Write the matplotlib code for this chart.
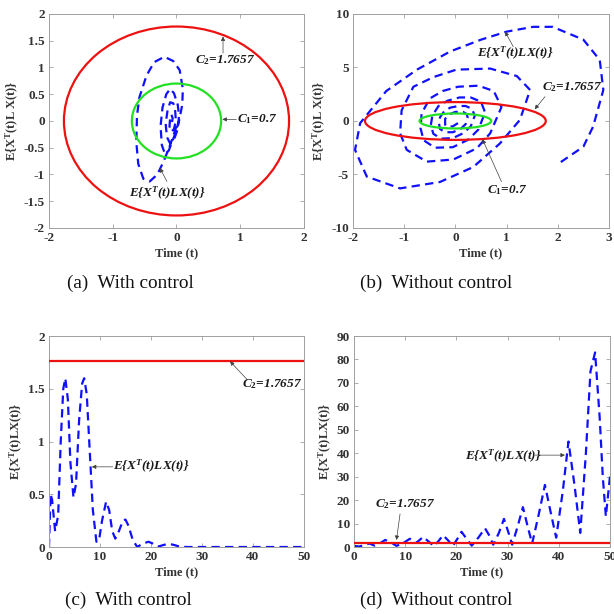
import matplotlib
matplotlib.use('Agg')
from matplotlib import pyplot as plt
from matplotlib.patches import Circle
from matplotlib.ticker import FuncFormatter

plt.rcParams['font.family'] = 'Liberation Serif'
plt.rcParams['font.weight'] = 'bold'
plt.rcParams['mathtext.fontset'] = 'custom'
plt.rcParams['mathtext.rm'] = 'Liberation Serif:bold'
plt.rcParams['mathtext.it'] = 'Liberation Serif:italic:bold'
plt.rcParams['mathtext.bf'] = 'Liberation Serif:bold'
plt.rcParams['lines.scale_dashes'] = False


# #################################################################
# Data
# #################################################################

C1 = 0.7
C2 = 1.7657

# (a) phase trajectory with control
xa = [0.0, -0.1, -0.2, -0.3, -0.42, -0.52, -0.6, -0.63, -0.62, -0.58, -0.47,
      -0.35, -0.19, -0.05, 0.05, 0.1, 0.09, 0.04, -0.04, -0.12, -0.18, -0.23,
      -0.25, -0.22, -0.16, -0.1, -0.04, 0.02, 0.04, 0.02, -0.04, -0.1, -0.15,
      -0.17, -0.14, -0.1, -0.05, -0.02, -0.01, -0.04, -0.08, -0.11, -0.1,
      -0.08, -0.06, -0.07]
ya = [-0.1, -0.45, -0.75, -1.0, -1.13, -1.08, -0.8, -0.4, 0.1, 0.45, 0.85,
      1.1, 1.2, 1.12, 0.95, 0.6, 0.3, 0.0, -0.3, -0.55, -0.62, -0.45,
      -0.1, 0.25, 0.5, 0.6, 0.52, 0.3, 0.1, -0.15, -0.35, -0.42, -0.3,
      -0.05, 0.2, 0.35, 0.33, 0.18, 0.0, -0.15, -0.2, -0.1, 0.05,
      0.12, 0.05, -0.02]

# (b) phase trajectory without control
xb = [0.05, -0.05, -0.15, -0.2, -0.2, -0.13, 0.0, 0.15, 0.22, 0.24,
      0.2, 0.1, -0.05, -0.2, -0.3, -0.32, -0.3, -0.22, -0.1, 0.06, 0.2, 0.32, 0.38,
      0.3, 0.15, -0.05, -0.28, -0.43, -0.48, -0.45, -0.33, -0.15, 0.08, 0.3, 0.5, 0.58,
      0.45, 0.25, -0.05, -0.4, -0.62, -0.68, -0.66, -0.5, -0.25, 0.05, 0.45, 0.75, 0.9,
      0.68, 0.42, -0.04, -0.56, -0.95, -1.08, -1.05, -0.82, -0.43, 0.02, 0.68, 1.2, 1.46,
      1.26, 0.87, 0.35, -0.3, -1.08, -1.73, -1.96, -1.86, -1.35, -0.75, -0.1, 0.5,
      1.0, 1.52, 1.9, 2.5, 2.82, 2.89, 2.69, 2.5, 1.98]
yb = [-0.2, -0.5, -0.55, -0.35, 0.2, 0.6, 0.85, 0.85, 0.65, 0.3,
      -0.3, -0.75, -1.05, -1.05, -0.75, -0.25, 0.35, 0.9, 1.25, 1.4, 1.4, 1.15, 0.5,
      -0.5, -1.15, -1.6, -1.65, -1.2, -0.4, 0.5, 1.4, 1.9, 2.2, 2.2, 1.8, 0.8,
      -0.8, -1.75, -2.45, -2.5, -1.8, -0.7, 0.7, 2.1, 2.8, 3.2, 3.3, 2.8, 1.3,
      -1.15, -2.55, -3.6, -3.8, -2.7, -1.15, 1.0, 3.2, 4.1, 4.8, 4.9, 4.2, 2.9,
      0.1, -2.1, -4.3, -5.7, -6.3, -5.2, -2.7, -0.2, 2.8, 4.8, 6.5, 7.6,
      8.35, 8.8, 8.8, 7.6, 5.7, 2.9, -0.53, -2.4, -4.1]

# (c) E{X^T(t)LX(t)} with control
tc = [0, 0.3, 0.6, 1.2, 1.8, 2.3, 2.8, 3.2, 3.7, 4.2, 4.8, 5.3, 5.9, 6.5,
      6.9, 7.4, 8.0, 8.6, 9.3, 9.8, 10.4, 11.2, 11.8, 12.4, 13.0, 13.7, 14.5,
      15.0, 15.6, 16.4, 17.3, 18.3, 19.5, 20.5, 21.5, 22.5, 23.5, 24.5, 25.5,
      27, 30, 35, 40, 45, 50]
vc = [0, 0.5, 0.45, 0.15, 0.3, 1.0, 1.5, 1.6, 1.4, 0.8, 0.47, 0.6, 1.2, 1.55,
      1.6, 1.45, 0.9, 0.35, 0.05, 0.06, 0.25, 0.43, 0.35, 0.15, 0.08, 0.15, 0.25,
      0.26, 0.2, 0.07, 0.0, 0.03, 0.05, 0.03, 0.005, 0.02, 0.03, 0.02, 0.005,
      0.0, 0.0, 0.0, 0.0, 0.0, 0.0]

# (d) E{X^T(t)LX(t)} without control
td = [0, 1, 2, 3, 4, 5, 6.1, 7.2, 8.3, 9.5, 10.9, 12.2, 13.5, 14.5, 15.6,
      16.5, 17.4, 18.4, 19.3, 20.2, 21, 22, 23, 24.3, 25.6, 26.4, 27.2, 28.3,
      29.3, 30.2, 30.9, 32, 33, 33.9, 34.8, 36.1, 37.3, 38.5, 39.5, 40.8, 41.9,
      43.1, 44.2, 45.3, 46.2, 47.1, 48.0, 48.6, 49.2, 50]
vd = [0.5, 0.2, 0.8, 1.5, 0.6, 1.5, 3.0, 2.0, 0.5, 1.5, 3.5, 1.8, 4.3, 2.5, 0.4,
      2.5, 5.0, 2.8, 0.4, 3.5, 6.5, 3.5, 0.6, 4.0, 8.0, 5.0, 1.0, 6.0,
      12.0, 6.0, 1.0, 9.0, 17.0, 9.0, 1.5, 14.0, 26.5, 14.0, 4.0, 24.0, 45.0,
      26.0, 6.0, 40.0, 75.0, 83.0, 55.0, 30.0, 13.0, 30.0]

lbl_E = r'E{X$^{\mathit{T}}$(t)LX(t)}'
lbl_C1 = r'C$_{\mathit{1}}$=0.7'
lbl_C2 = r'C$_{\mathit{2}}$=1.7657'


# #################################################################
# Figure
# #################################################################

dash = (6, 3.8)
tickcol = '#333333'
framecol = '#a0a0a0'
arrowprops = dict(arrowstyle='-|>', color='#404040', lw=0.5,
                  mutation_scale=6, shrinkA=0, shrinkB=0)
fmt = FuncFormatter(lambda v, p: '%g' % v)


def setup(ax, xlim, ylim, xticks, yticks, ylabel):
    ax.set_xlim(xlim)
    ax.set_ylim(ylim)
    ax.set_xticks(xticks)
    ax.set_yticks(yticks)
    ax.xaxis.set_major_formatter(fmt)
    ax.yaxis.set_major_formatter(fmt)
    ax.tick_params(direction='in', top=True, right=True, length=3,
                   width=0.6, color=framecol, labelcolor=tickcol,
                   labelsize=9.5, pad=3)
    for lab in ax.get_xticklabels() + ax.get_yticklabels():
        lab.set_fontweight('bold')
    for s in ax.spines.values():
        s.set_color(framecol)
        s.set_linewidth(0.7)
    ax.set_xlabel('Time (t)', fontsize=9, fontweight='bold', color=tickcol,
                  labelpad=2)
    ax.set_ylabel(ylabel, fontsize=9, fontweight='bold', color=tickcol,
                  labelpad=2)


def note(ax, txt, x, y, head, tail, ha='left'):
    ax.annotate('', xy=head, xytext=tail, arrowprops=arrowprops)
    ax.text(x, y, txt, fontsize=9.5, style='italic', weight='bold',
            ha=ha, va='center', color='#1a1a1a')


fig = plt.figure(figsize=(6.14, 6.14), dpi=100)

ax_a = fig.add_axes([0.0798, 0.6287, 0.4153, 0.3485])
ax_b = fig.add_axes([0.5749, 0.6287, 0.4169, 0.3485])
ax_c = fig.add_axes([0.0798, 0.1091, 0.4153, 0.3436])
ax_d = fig.add_axes([0.5765, 0.1091, 0.4169, 0.3436])

# (a) ···························································
ax = ax_a
ax.plot(xa, ya, color='#1010ff', lw=1.6, dashes=dash, zorder=2)
ax.add_patch(Circle((0, 0), C2, fill=False, ec='#ee1111', lw=1.6, zorder=3))
ax.add_patch(Circle((0, 0), C1, fill=False, ec='#22e022', lw=1.6, zorder=3))
setup(ax, (-2, 2), (-2, 2), [-2, -1, 0, 1, 2],
      [-2, -1.5, -1, -0.5, 0, 0.5, 1, 1.5, 2], r'E{X$^{\mathrm{T}}$(t)L X(t)}')
note(ax, lbl_C2, 0.29, 1.14, (0.73, 1.58), (0.73, 1.27))
note(ax, lbl_C1, 0.95, 0.03, (0.72, 0.03), (0.94, 0.03))
note(ax, lbl_E, -0.14, -1.36, (-0.26, -0.88), (-0.15, -1.13), ha='center')

# (b) ···························································
ax = ax_b
ax.plot(xb, yb, color='#1010ff', lw=1.6, dashes=dash, zorder=2)
ax.add_patch(Circle((0, 0), C2, fill=False, ec='#ee1111', lw=1.6, zorder=3))
ax.add_patch(Circle((0, 0), C1, fill=False, ec='#22e022', lw=1.6, zorder=3))
setup(ax, (-2, 3), (-10, 10), [-2, -1, 0, 1, 2, 3], [-10, -5, 0, 5, 10],
      r'E{X$^{\mathrm{T}}$(t)L X(t)}')
note(ax, lbl_E, 0.42, 6.33, (0.97, 8.35), (1.13, 6.95))
note(ax, lbl_C2, 1.69, 3.2, (1.55, 1.1), (1.75, 2.27))
note(ax, lbl_C1, 0.61, -6.45, (0.53, -1.71), (0.9, -5.67))

# (c) ···························································
ax = ax_c
ax.plot(tc, vc, color='#1010ff', lw=1.6, dashes=dash, zorder=2)
ax.axhline(C2, color='#ee1111', lw=1.6, zorder=3)
setup(ax, (0, 50), (0, 2), [0, 10, 20, 30, 40, 50], [0, 0.5, 1, 1.5, 2],
      r'E{X$^{\mathrm{T}}$(t)LX(t)}')
note(ax, lbl_C2, 37.8, 1.54, (35.5, 1.76), (38.8, 1.59))
note(ax, lbl_E, 12.6, 0.76, (8.4, 0.76), (12.5, 0.76))

# (d) ···························································
ax = ax_d
ax.plot(td, vd, color='#1010ff', lw=1.6, dashes=dash, zorder=2)
ax.axhline(C2, color='#ee1111', lw=1.6, zorder=3)
setup(ax, (0, 50), (0, 90), [0, 10, 20, 30, 40, 50],
      [0, 10, 20, 30, 40, 50, 60, 70, 80, 90], r'E{X$^{\mathrm{T}}$(t)LX(t)}')
note(ax, lbl_E, 21.7, 38.5, (41.2, 39.2), (35.4, 39.2))
note(ax, lbl_C2, 4.1, 18.2, (8.3, 3.0), (9.0, 14.1))

# captions ······················································
caps = ['(a)  With control', '(b)  Without control',
        '(c)  With control', '(d)  Without control']
pos = [(0.213, 0.539), (0.711, 0.539), (0.209, 0.023), (0.711, 0.023)]
for c, (px, py) in zip(caps, pos):
    fig.text(px, py, c, fontsize=13.8, weight='normal', ha='center',
             va='center', color='#111111')

fig.savefig('out.png', dpi=100)
plt.close()
